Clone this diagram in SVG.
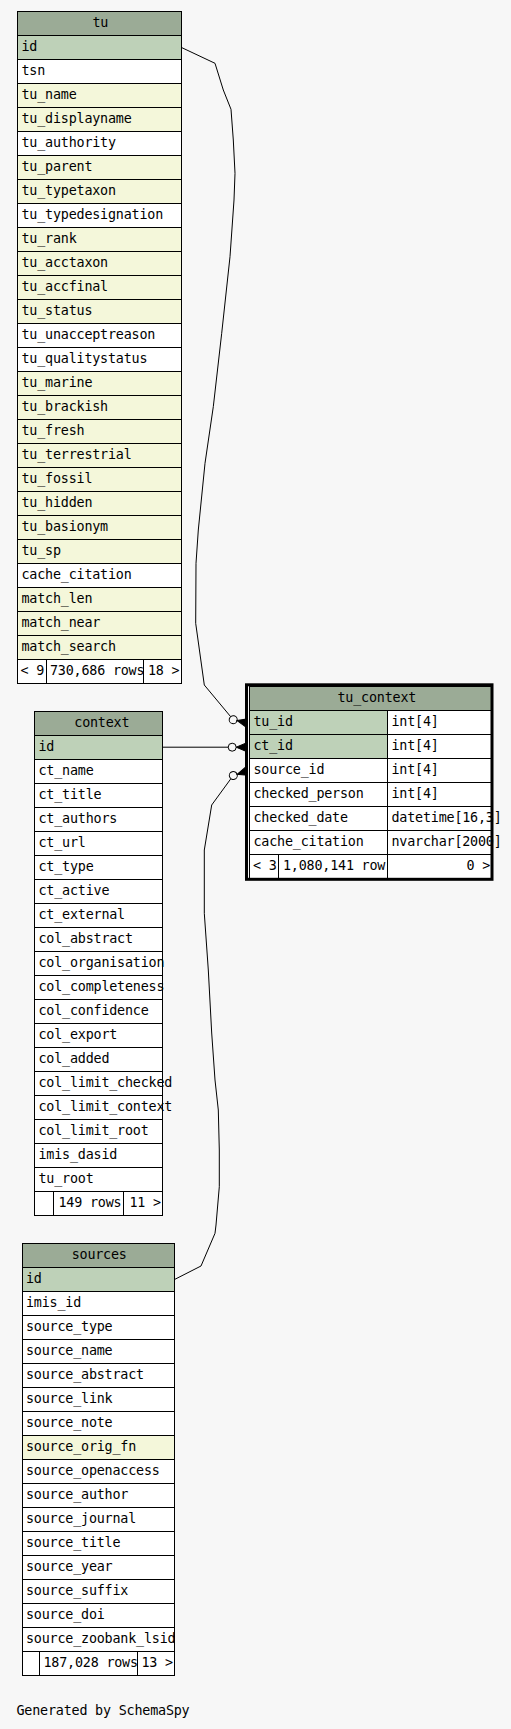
<svg xmlns="http://www.w3.org/2000/svg" width="511" height="1729" viewBox="0 0 511 1729">
<style>
.t{font-family:"DejaVu Sans Mono","Liberation Mono",monospace;font-size:13.4px;letter-spacing:-0.2px;fill:#000}
.m{text-anchor:middle}
.e{text-anchor:end}
.c{stroke:#000;stroke-width:1}
.h{fill:#9bab96}
.k{fill:#bed1b8}
.y{fill:#f4f7da}
.w{fill:#ffffff}
.ln{fill:none;stroke:#000;stroke-width:1}
</style>
<rect x="0" y="0" width="511" height="1729" fill="#f7f7f7"/>

<g id="tu">
<rect class="c h" x="17.5" y="11.5" width="164" height="24"/>
<rect class="c k" x="17.5" y="35.5" width="164" height="24"/>
<rect class="c w" x="17.5" y="59.5" width="164" height="24"/>
<rect class="c y" x="17.5" y="83.5" width="164" height="24"/>
<rect class="c y" x="17.5" y="107.5" width="164" height="24"/>
<rect class="c w" x="17.5" y="131.5" width="164" height="24"/>
<rect class="c y" x="17.5" y="155.5" width="164" height="24"/>
<rect class="c y" x="17.5" y="179.5" width="164" height="24"/>
<rect class="c w" x="17.5" y="203.5" width="164" height="24"/>
<rect class="c y" x="17.5" y="227.5" width="164" height="24"/>
<rect class="c y" x="17.5" y="251.5" width="164" height="24"/>
<rect class="c y" x="17.5" y="275.5" width="164" height="24"/>
<rect class="c y" x="17.5" y="299.5" width="164" height="24"/>
<rect class="c w" x="17.5" y="323.5" width="164" height="24"/>
<rect class="c w" x="17.5" y="347.5" width="164" height="24"/>
<rect class="c y" x="17.5" y="371.5" width="164" height="24"/>
<rect class="c y" x="17.5" y="395.5" width="164" height="24"/>
<rect class="c y" x="17.5" y="419.5" width="164" height="24"/>
<rect class="c y" x="17.5" y="443.5" width="164" height="24"/>
<rect class="c y" x="17.5" y="467.5" width="164" height="24"/>
<rect class="c y" x="17.5" y="491.5" width="164" height="24"/>
<rect class="c y" x="17.5" y="515.5" width="164" height="24"/>
<rect class="c y" x="17.5" y="539.5" width="164" height="24"/>
<rect class="c w" x="17.5" y="563.5" width="164" height="24"/>
<rect class="c y" x="17.5" y="587.5" width="164" height="24"/>
<rect class="c y" x="17.5" y="611.5" width="164" height="24"/>
<rect class="c y" x="17.5" y="635.5" width="164" height="24"/>
<rect class="c w" x="17.5" y="659.5" width="164" height="24"/>
<text class="t m" x="100.3" y="27">tu</text>
<text class="t" x="21.5" y="51">id</text>
<text class="t" x="21.5" y="75">tsn</text>
<text class="t" x="21.5" y="99">tu_name</text>
<text class="t" x="21.5" y="123">tu_displayname</text>
<text class="t" x="21.5" y="147">tu_authority</text>
<text class="t" x="21.5" y="171">tu_parent</text>
<text class="t" x="21.5" y="195">tu_typetaxon</text>
<text class="t" x="21.5" y="219">tu_typedesignation</text>
<text class="t" x="21.5" y="243">tu_rank</text>
<text class="t" x="21.5" y="267">tu_acctaxon</text>
<text class="t" x="21.5" y="291">tu_accfinal</text>
<text class="t" x="21.5" y="315">tu_status</text>
<text class="t" x="21.5" y="339">tu_unacceptreason</text>
<text class="t" x="21.5" y="363">tu_qualitystatus</text>
<text class="t" x="21.5" y="387">tu_marine</text>
<text class="t" x="21.5" y="411">tu_brackish</text>
<text class="t" x="21.5" y="435">tu_fresh</text>
<text class="t" x="21.5" y="459">tu_terrestrial</text>
<text class="t" x="21.5" y="483">tu_fossil</text>
<text class="t" x="21.5" y="507">tu_hidden</text>
<text class="t" x="21.5" y="531">tu_basionym</text>
<text class="t" x="21.5" y="555">tu_sp</text>
<text class="t" x="21.5" y="579">cache_citation</text>
<text class="t" x="21.5" y="603">match_len</text>
<text class="t" x="21.5" y="627">match_near</text>
<text class="t" x="21.5" y="651">match_search</text>
<text class="t" x="20.5" y="675">&lt; 9</text>
<text class="t" x="50" y="675">730,686 rows</text>
<text class="t" x="148" y="675">18 &gt;</text>
<path class="ln" d="M46.5,659.5V683.5M143.5,659.5V683.5"/>
</g>

<g id="context">
<rect class="c h" x="34.5" y="711.5" width="128" height="24"/>
<rect class="c k" x="34.5" y="735.5" width="128" height="24"/>
<rect class="c w" x="34.5" y="759.5" width="128" height="24"/>
<rect class="c w" x="34.5" y="783.5" width="128" height="24"/>
<rect class="c w" x="34.5" y="807.5" width="128" height="24"/>
<rect class="c w" x="34.5" y="831.5" width="128" height="24"/>
<rect class="c w" x="34.5" y="855.5" width="128" height="24"/>
<rect class="c w" x="34.5" y="879.5" width="128" height="24"/>
<rect class="c w" x="34.5" y="903.5" width="128" height="24"/>
<rect class="c w" x="34.5" y="927.5" width="128" height="24"/>
<rect class="c w" x="34.5" y="951.5" width="128" height="24"/>
<rect class="c w" x="34.5" y="975.5" width="128" height="24"/>
<rect class="c w" x="34.5" y="999.5" width="128" height="24"/>
<rect class="c w" x="34.5" y="1023.5" width="128" height="24"/>
<rect class="c w" x="34.5" y="1047.5" width="128" height="24"/>
<rect class="c w" x="34.5" y="1071.5" width="128" height="24"/>
<rect class="c w" x="34.5" y="1095.5" width="128" height="24"/>
<rect class="c w" x="34.5" y="1119.5" width="128" height="24"/>
<rect class="c w" x="34.5" y="1143.5" width="128" height="24"/>
<rect class="c w" x="34.5" y="1167.5" width="128" height="24"/>
<rect class="c w" x="34.5" y="1191.5" width="128" height="24"/>
<text class="t m" x="101.8" y="727">context</text>
<text class="t" x="38.5" y="751">id</text>
<text class="t" x="38.5" y="775">ct_name</text>
<text class="t" x="38.5" y="799">ct_title</text>
<text class="t" x="38.5" y="823">ct_authors</text>
<text class="t" x="38.5" y="847">ct_url</text>
<text class="t" x="38.5" y="871">ct_type</text>
<text class="t" x="38.5" y="895">ct_active</text>
<text class="t" x="38.5" y="919">ct_external</text>
<text class="t" x="38.5" y="943">col_abstract</text>
<text class="t" x="38.5" y="967">col_organisation</text>
<text class="t" x="38.5" y="991">col_completeness</text>
<text class="t" x="38.5" y="1015">col_confidence</text>
<text class="t" x="38.5" y="1039">col_export</text>
<text class="t" x="38.5" y="1063">col_added</text>
<text class="t" x="38.5" y="1087">col_limit_checked</text>
<text class="t" x="38.5" y="1111">col_limit_context</text>
<text class="t" x="38.5" y="1135">col_limit_root</text>
<text class="t" x="38.5" y="1159">imis_dasid</text>
<text class="t" x="38.5" y="1183">tu_root</text>
<text class="t" x="58.5" y="1207">149 rows</text>
<text class="t" x="129.5" y="1207">11 &gt;</text>
<path class="ln" d="M53.5,1191.5V1215.5M123.5,1191.5V1215.5"/>
</g>

<g id="sources">
<rect class="c h" x="22.5" y="1243.5" width="152" height="24"/>
<rect class="c k" x="22.5" y="1267.5" width="152" height="24"/>
<rect class="c w" x="22.5" y="1291.5" width="152" height="24"/>
<rect class="c w" x="22.5" y="1315.5" width="152" height="24"/>
<rect class="c w" x="22.5" y="1339.5" width="152" height="24"/>
<rect class="c w" x="22.5" y="1363.5" width="152" height="24"/>
<rect class="c w" x="22.5" y="1387.5" width="152" height="24"/>
<rect class="c w" x="22.5" y="1411.5" width="152" height="24"/>
<rect class="c y" x="22.5" y="1435.5" width="152" height="24"/>
<rect class="c w" x="22.5" y="1459.5" width="152" height="24"/>
<rect class="c w" x="22.5" y="1483.5" width="152" height="24"/>
<rect class="c w" x="22.5" y="1507.5" width="152" height="24"/>
<rect class="c w" x="22.5" y="1531.5" width="152" height="24"/>
<rect class="c w" x="22.5" y="1555.5" width="152" height="24"/>
<rect class="c w" x="22.5" y="1579.5" width="152" height="24"/>
<rect class="c w" x="22.5" y="1603.5" width="152" height="24"/>
<rect class="c w" x="22.5" y="1627.5" width="152" height="24"/>
<rect class="c w" x="22.5" y="1651.5" width="152" height="24"/>
<text class="t m" x="99.2" y="1259">sources</text>
<text class="t" x="26" y="1283">id</text>
<text class="t" x="26" y="1307">imis_id</text>
<text class="t" x="26" y="1331">source_type</text>
<text class="t" x="26" y="1355">source_name</text>
<text class="t" x="26" y="1379">source_abstract</text>
<text class="t" x="26" y="1403">source_link</text>
<text class="t" x="26" y="1427">source_note</text>
<text class="t" x="26" y="1451">source_orig_fn</text>
<text class="t" x="26" y="1475">source_openaccess</text>
<text class="t" x="26" y="1499">source_author</text>
<text class="t" x="26" y="1523">source_journal</text>
<text class="t" x="26" y="1547">source_title</text>
<text class="t" x="26" y="1571">source_year</text>
<text class="t" x="26" y="1595">source_suffix</text>
<text class="t" x="26" y="1619">source_doi</text>
<text class="t" x="26" y="1643">source_zoobank_lsid</text>
<text class="t" x="43.5" y="1667">187,028 rows</text>
<text class="t" x="141.5" y="1667">13 &gt;</text>
<path class="ln" d="M39.5,1651.5V1675.5M137.5,1651.5V1675.5"/>
</g>

<g id="tu_context">
<rect class="c h" x="249.5" y="686.5" width="242" height="24"/>
<rect class="c k" x="249.5" y="710.5" width="138" height="24"/>
<rect class="c w" x="387.5" y="710.5" width="104" height="24"/>
<rect class="c k" x="249.5" y="734.5" width="138" height="24"/>
<rect class="c w" x="387.5" y="734.5" width="104" height="24"/>
<rect class="c w" x="249.5" y="758.5" width="138" height="24"/>
<rect class="c w" x="387.5" y="758.5" width="104" height="24"/>
<rect class="c w" x="249.5" y="782.5" width="138" height="24"/>
<rect class="c w" x="387.5" y="782.5" width="104" height="24"/>
<rect class="c w" x="249.5" y="806.5" width="138" height="24"/>
<rect class="c w" x="387.5" y="806.5" width="104" height="24"/>
<rect class="c w" x="249.5" y="830.5" width="138" height="24"/>
<rect class="c w" x="387.5" y="830.5" width="104" height="24"/>
<rect class="c w" x="249.5" y="854.5" width="242" height="24"/>
<path class="ln" d="M278.5,854.5V878.5M387.5,854.5V878.5"/>
<text class="t m" x="376.8" y="702">tu_context</text>
<text class="t" x="253.5" y="726">tu_id</text>
<text class="t" x="391.5" y="726">int[4]</text>
<text class="t" x="253.5" y="750">ct_id</text>
<text class="t" x="391.5" y="750">int[4]</text>
<text class="t" x="253.5" y="774">source_id</text>
<text class="t" x="391.5" y="774">int[4]</text>
<text class="t" x="253.5" y="798">checked_person</text>
<text class="t" x="391.5" y="798">int[4]</text>
<text class="t" x="253.5" y="822">checked_date</text>
<text class="t" x="391.5" y="822">datetime[16,3]</text>
<text class="t" x="253.5" y="846">cache_citation</text>
<text class="t" x="391.5" y="846">nvarchar[2000]</text>
<text class="t" x="253" y="870">&lt; 3</text>
<text class="t" x="283" y="870">1,080,141 row</text>
<text class="t e" x="490" y="870">0 &gt;</text>
<rect x="246.5" y="684.8" width="245.5" height="194.5" fill="none" stroke="#000" stroke-width="3"/>
</g>

<g id="connectors">
<polyline class="ln" points="181.5,47.5 215,63.3 223.3,90 231,109.3 233.3,140 235,173.3 234,200 230,256.7 221.7,333.3 213.3,406.7 205,463.3 198.3,530 196,563.3 195.7,623.3 204.3,685 230.6,716.6"/>
<g transform="translate(233.2,719.7) rotate(13.2)">
<circle cx="0" cy="0" r="4" fill="none" stroke="#000" stroke-width="1"/>
<path d="M4,0L13.5,-4L13.5,4Z" fill="#000" stroke="#000" stroke-width="1"/>
</g>
<polyline class="ln" points="162.5,747.2 228.2,747.2"/>
<g transform="translate(232.2,747.2)">
<circle cx="0" cy="0" r="4" fill="none" stroke="#000" stroke-width="1"/>
<path d="M4,0L13.5,-4L13.5,4Z" fill="#000" stroke="#000" stroke-width="1"/>
</g>
<polyline class="ln" points="174.5,1279.5 201,1266 215,1233.3 216,1225 219.3,1186.7 219.3,1150 218.3,1110 215,1080 211.7,1033 208.3,970 204.3,913.3 204.3,850 211.7,805 230.9,778.7"/>
<g transform="translate(233.3,775.5) rotate(-17.5)">
<circle cx="0" cy="0" r="4" fill="none" stroke="#000" stroke-width="1"/>
<path d="M4,0L13.5,-4L13.5,4Z" fill="#000" stroke="#000" stroke-width="1"/>
</g>
</g>

<text class="t" x="16.5" y="1715">Generated by SchemaSpy</text>
</svg>
